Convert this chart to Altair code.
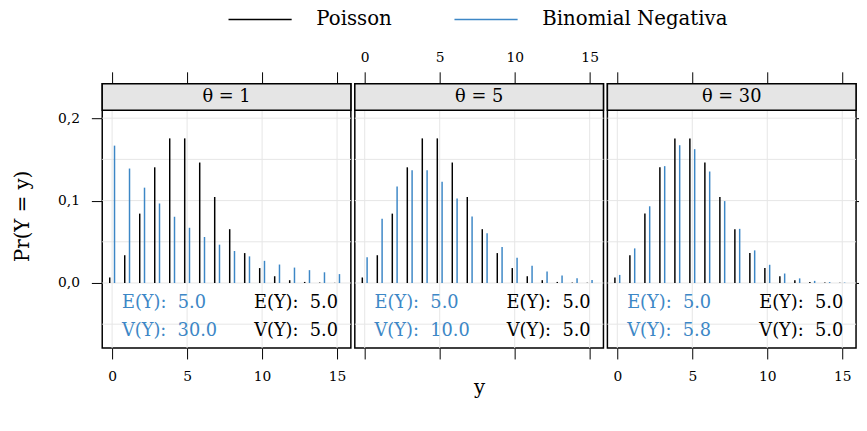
import altair as alt
import pandas as pd

# ---------------- data ----------------
ys = list(range(16))
poisson = [0.0067, 0.0337, 0.0842, 0.1404, 0.1755, 0.1755, 0.1462, 0.1044,
           0.0653, 0.0363, 0.0181, 0.0082, 0.0034, 0.0013, 0.0005, 0.0002]
nb_theta1 = [0.1667, 0.1389, 0.1157, 0.0965, 0.0804, 0.0670, 0.0558, 0.0465,
             0.0388, 0.0323, 0.0269, 0.0224, 0.0187, 0.0156, 0.0130, 0.0108]
nb_theta5 = [0.0313, 0.0781, 0.1172, 0.1367, 0.1367, 0.1230, 0.1025, 0.0806,
             0.0604, 0.0436, 0.0305, 0.0208, 0.0139, 0.0091, 0.0058, 0.0037]
nb_theta30 = [0.0098, 0.0420, 0.0931, 0.1418, 0.1672, 0.1624, 0.1353, 0.0994,
              0.0657, 0.0396, 0.0221, 0.0115, 0.0056, 0.0026, 0.0011, 0.0005]
nb_series = [nb_theta1, nb_theta5, nb_theta30]
strip_labels = ["θ = 1", "θ = 5", "θ = 30"]
nb_mean = ["5.0", "5.0", "5.0"]
nb_var = ["30.0", "10.0", "5.8"]
pois_mean = "5.0"
pois_var = "5.0"
series = ["Poisson", "Binomial Negativa"]
colors = ["black", "#3d87c6"]
x_ticks = [0, 5, 10, 15]
y_ticks = [0.0, 0.1, 0.2]
y_grid = [-0.05, 0.0, 0.05, 0.1, 0.15, 0.2]

# ---------------- style ----------------
FONT = "DejaVu Serif"
W = 252
STRIP = 27
PH = 241
H = STRIP + PH
XDOM = [-0.66, 15.92]
YDOM = [-0.079, 0.2419]
GRID = "#e6e6e6"
SP = "\u00a0 "

legend = alt.Legend(title=None, orient="none", legendX=127, legendY=-74,
                    direction="horizontal", symbolType="stroke", symbolSize=4096,
                    symbolStrokeWidth=1.5, clipHeight=18, labelOffset=24,
                    columnPadding=62, labelFontSize=20, labelFont=FONT,
                    labelColor="black", labelLimit=400)

AX = dict(domain=False, grid=False, tickColor="black", minExtent=0)


def panel(i):
    xscale = alt.Scale(domain=XDOM, nice=False, zero=False)
    yscale = alt.Scale(domain=YDOM, nice=False, zero=False)

    top_axis = alt.Axis(orient="top", values=x_ticks, tickSize=12,
                        labelFont=FONT, labelFontSize=14,
                        labelPadding=7, labelColor="black",
                        labelOpacity=1 if i == 1 else 0, title=None, **AX)
    top = alt.Chart(pd.DataFrame({"t": x_ticks})).mark_point(opacity=0).encode(
        x=alt.X("t:Q", scale=xscale, axis=top_axis), y=alt.value(0))

    if i == 1:
        bottom_axis = alt.Axis(orient="bottom", values=x_ticks, tickSize=11,
                               labels=False, title="y", titleFont=FONT,
                               titleFontSize=20, titleFontWeight="normal",
                               titleColor="black", titlePadding=19, **AX)
    else:
        bottom_axis = alt.Axis(orient="bottom", values=x_ticks, tickSize=11,
                               labelFont=FONT, labelFontSize=14, labelPadding=11,
                               labelColor="black", title=None, **AX)
    if i == 0:
        y_axis = alt.Axis(orient="left", values=y_ticks, tickSize=11,
                          labelFont=FONT, labelFontSize=14,
                          labelPadding=12, labelColor="black",
                          labelExpr="replace(format(datum.value, '.1f'), '.', ',')",
                          title="Pr(Y = y)", titleFont=FONT, titleFontSize=20,
                          titleFontWeight="normal", titleColor="black",
                          titlePadding=25, **AX)
    elif i == 2:
        y_axis = alt.Axis(orient="right", values=y_ticks, tickSize=9,
                          labels=False, title=None, **AX)
    else:
        y_axis = None

    vgrid = alt.Chart(pd.DataFrame({"g": x_ticks})).mark_rule(color=GRID, strokeWidth=1).encode(
        x=alt.X("g:Q", scale=xscale, axis=None), y=alt.value(STRIP), y2=alt.value(H))
    hgrid = alt.Chart(pd.DataFrame({"g": y_grid})).mark_rule(color=GRID, strokeWidth=1).encode(
        y=alt.Y("g:Q", scale=yscale, axis=y_axis))
    strip = alt.Chart(alt.Data(values=[{}])).mark_rect(
        fill="#e5e5e5", stroke="black", strokeWidth=1.5).encode(
        x=alt.value(0), x2=alt.value(W), y=alt.value(0), y2=alt.value(STRIP))
    strip_txt = alt.Chart(pd.DataFrame({"label": [strip_labels[i]]})).mark_text(
        font=FONT, fontSize=18, baseline="middle", align="center", color="black").encode(
        x=alt.value(W / 2), y=alt.value(STRIP / 2), text="label:N")

    df = pd.DataFrame({
        "y": ys + ys,
        "p": poisson + nb_series[i],
        "series": ["Poisson"] * len(ys) + ["Binomial Negativa"] * len(ys),
    })
    bars = alt.Chart(df).mark_rule(strokeWidth=1.5).transform_calculate(
        xpos="datum.series == 'Poisson' ? datum.y - 0.16 : datum.y + 0.16").encode(
        x=alt.X("xpos:Q", scale=xscale, axis=bottom_axis),
        y=alt.Y("p:Q", scale=yscale, axis=y_axis),
        y2=alt.datum(0),
        color=alt.Color("series:N", scale=alt.Scale(domain=series, range=colors),
                        legend=legend),
    )

    def txt(s, xv, yv, align, col):
        return alt.Chart(pd.DataFrame({"s": [s]})).mark_text(
            font=FONT, fontSize=18, align=align, baseline="alphabetic", color=col).encode(
            x=alt.value(xv), y=alt.value(yv), text="s:N")

    texts = [
        txt("E(Y):" + SP + nb_mean[i], 20, STRIP + 200, "left", colors[1]),
        txt("V(Y):" + SP + nb_var[i], 20, STRIP + 229, "left", colors[1]),
        txt("E(Y):" + SP + pois_mean, 239, STRIP + 200, "right", colors[0]),
        txt("V(Y):" + SP + pois_var, 239, STRIP + 229, "right", colors[0]),
    ]

    return alt.layer(top, vgrid, hgrid, strip, strip_txt, bars, *texts).resolve_scale(
        x="independent").properties(width=W, height=H)


chart = alt.hconcat(panel(0), panel(1), panel(2), spacing=0).resolve_scale(
    color="shared").properties(
    padding={"left": 3.5, "top": 0, "right": -8, "bottom": 4}).configure_view(
    stroke="black", strokeWidth=1.5)

chart.save("out.html", embed_options={"renderer": "svg", "actions": False})
